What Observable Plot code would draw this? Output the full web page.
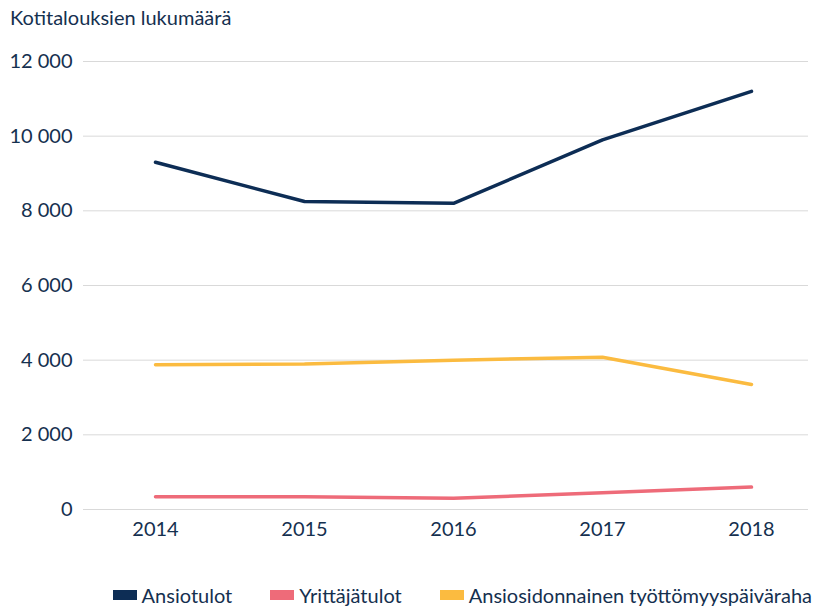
<!DOCTYPE html>
<html>
<head>
<meta charset="utf-8">
<script src="https://cdn.jsdelivr.net/npm/d3@7"></script>
<script src="https://cdn.jsdelivr.net/npm/@observablehq/plot@0.6"></script>
<style>
  body { margin: 0; background: #fff; font-family: Lato, "Open Sans", sans-serif; color: #15304f; }
  #title { height: 40px; box-sizing: border-box; padding: 5px 0 0 10px; font-size: 20px; }
  #legend { display: flex; justify-content: flex-end; padding-right: 10px; gap: 38px; font-size: 20px; margin-top: 13px; }
  .item { display: flex; align-items: center; }
  .sw { width: 24px; height: 10px; margin-right: 5px; }
</style>
</head>
<body>
<div id="title">Kotitalouksien lukumäärä</div>
<div id="chart"></div>
<div id="legend"></div>
<script>
const years = [2014, 2015, 2016, 2017, 2018];
const seriesNames = ["Ansiotulot", "Yrittäjätulot", "Ansiosidonnainen työttömyyspäiväraha"];
const ansiotulot = [9300, 8250, 8200, 9900, 11200];
const yrittajatulot = [340, 340, 300, 450, 600];
const paivaraha = [3880, 3900, 4000, 4080, 3350];
const colors = ["#0d2d55", "#ee6b79", "#fbbb40"];
const yTicks = [0, 2000, 4000, 6000, 8000, 10000, 12000];

const valueLists = [ansiotulot, yrittajatulot, paivaraha];
const data = [];
seriesNames.forEach((s, i) => years.forEach((y, j) => data.push({series: s, year: String(y), value: valueLists[i][j]})));

const fmt = d3.formatLocale({decimal: ",", thousands: "\u00a0", grouping: [3], currency: ["", ""]}).format(",d");

const chart = Plot.plot({
  width: 822,
  height: 530,
  marginTop: 21,
  marginBottom: 61,
  marginLeft: 83,
  marginRight: 14,
  style: {fontFamily: "Lato, 'Open Sans', sans-serif", fontSize: "20px", color: "#15304f", background: "#fff"},
  x: {type: "point", domain: years.map(String), padding: 0.374, insetLeft: 14, label: null, tickSize: 0, tickPadding: 12},
  y: {domain: [0, 12000], ticks: yTicks, tickFormat: fmt, label: null, tickSize: 0, tickPadding: 11},
  color: {domain: seriesNames, range: colors},
  marks: [
    Plot.gridY(yTicks, {stroke: "#d9d9d9", strokeOpacity: 1, strokeWidth: 1}),
    Plot.axisY({ticks: yTicks, tickFormat: fmt, tickSize: 0, tickPadding: 11, label: null, fontSize: 20}),
    Plot.axisX({tickSize: 0, tickPadding: 12, label: null, fontSize: 20}),
    Plot.line(data, {x: "year", y: "value", z: "series", stroke: "series", strokeWidth: 3.5, strokeLinejoin: "miter", strokeLinecap: "round"})
  ]
});
document.getElementById("chart").appendChild(chart);

const legend = document.getElementById("legend");
seriesNames.forEach((s, i) => {
  const it = document.createElement("div");
  it.className = "item";
  const sw = document.createElement("span");
  sw.className = "sw";
  sw.style.background = colors[i];
  it.appendChild(sw);
  it.appendChild(document.createTextNode(s));
  legend.appendChild(it);
});
</script>
</body>
</html>
